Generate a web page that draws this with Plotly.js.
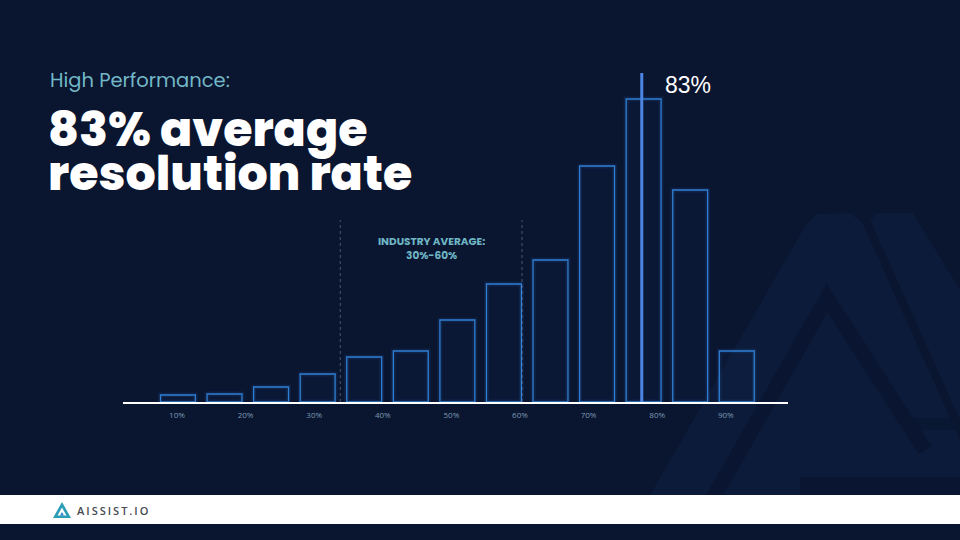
<!DOCTYPE html>
<html>
<head>
<meta charset="utf-8">
<script src="https://cdn.plot.ly/plotly-3.0.1.min.js"></script>
<style>
  html, body { margin: 0; padding: 0; background: #0a1530; }
  #chart { width: 960px; height: 540px; }
</style>
</head>
<body>
<div id="chart"></div>
<script>
// ---- Data ----
const bins = [1, 2, 3, 4, 5, 6, 7, 8, 9, 10, 11, 12, 13];
const shares = [0.7, 0.8, 1.5, 2.8, 4.5, 5.1, 8.2, 11.8, 14.2, 23.6, 30.3, 21.2, 5.1];
const tickValues = [10, 20, 30, 40, 50, 60, 70, 80, 90];
const tickLabels = ['10%', '20%', '30%', '40%', '50%', '60%', '70%', '80%', '90%'];
const averageBin = 10.96;          // position of the 83% marker on the bin axis
const averageLabel = '83%';
const industryBounds = [33.8, 60.3]; // dotted guide positions on the percent axis
const industryText = 'INDUSTRY AVERAGE:<br>30%-60%';

// ---- helpers for page-pixel -> paper ----
const W = 960, H = 540;
const PX = x => x / W;
const PY = y => 1 - y / H;
const path = pts => pts.map((p, i) => (i ? 'L ' : 'M ') + PX(p[0]) + ' ' + PY(p[1])).join(' ') + ' Z';
const openPath = pts => pts.map((p, i) => (i ? 'L ' : 'M ') + PX(p[0]) + ' ' + PY(p[1])).join(' ');

const barColor = '#2f7fd4';
const bg = '#0a1530';
const lightFill = 'rgba(30,62,115,0.14)';

const traces = [
  { // glow
    type: 'bar', x: bins, y: shares, xaxis: 'x', yaxis: 'y',
    marker: { color: 'rgba(0,0,0,0)', line: { color: 'rgba(47,127,212,0.12)', width: 5 } },
    hoverinfo: 'skip'
  },
  {
    type: 'bar', x: bins, y: shares, xaxis: 'x', yaxis: 'y',
    marker: { color: 'rgba(30,60,110,0.08)', line: { color: barColor, width: 1.3 } },
    hoverinfo: 'skip'
  },
  { // industry-average dotted guides
    type: 'scatter', mode: 'lines', xaxis: 'x2', yaxis: 'y',
    x: [industryBounds[0], industryBounds[0], null, industryBounds[1], industryBounds[1]],
    y: [0, 18.2, null, 0, 18.2],
    line: { color: 'rgba(140,150,175,0.5)', width: 1, dash: 'dot' },
    hoverinfo: 'skip'
  },
  { // 83% marker line
    type: 'scatter', mode: 'lines', xaxis: 'x', yaxis: 'y',
    x: [averageBin, averageBin], y: [0, 32.9],
    line: { color: '#4d86e2', width: 3 },
    hoverinfo: 'skip'
  }
];

const shapes = [
  // faint background logo
  { type: 'path', xref: 'paper', yref: 'paper', layer: 'below',
    path: path([[650, 495], [805, 226], [816, 214], [850, 213], [862, 222], [985, 495]]),
    fillcolor: lightFill, line: { width: 0 } },
  { type: 'path', xref: 'paper', yref: 'paper', layer: 'below',
    path: path([[870, 220], [878, 213], [913, 213], [960, 290], [960, 420]]),
    fillcolor: lightFill, line: { width: 0 } },
  { type: 'path', xref: 'paper', yref: 'paper', layer: 'below',
    path: openPath([[712, 500], [827, 298], [925, 450]]),
    line: { color: 'rgba(10,21,48,0.8)', width: 15 } },
  { type: 'path', xref: 'paper', yref: 'paper', layer: 'below',
    path: path([[800, 477], [985, 477], [985, 495], [800, 495]]),
    fillcolor: 'rgba(10,21,48,0.8)', line: { width: 0 } },
  { type: 'path', xref: 'paper', yref: 'paper', layer: 'below',
    path: path([[900, 418], [960, 418], [960, 430], [908, 430]]),
    fillcolor: 'rgba(10,21,48,0.6)', line: { width: 0 } },
  // footer band
  { type: 'rect', xref: 'paper', yref: 'paper', layer: 'above',
    x0: 0, x1: 1, y0: PY(524), y1: PY(495),
    fillcolor: '#ffffff', line: { width: 0 } },
  // logo icon
  { type: 'path', xref: 'paper', yref: 'paper', layer: 'above',
    path: path([[53, 518], [62, 502], [71, 518]]),
    fillcolor: '#2b9db5', line: { width: 0 } },
  { type: 'path', xref: 'paper', yref: 'paper', layer: 'above',
    path: path([[57.5, 515.5], [62, 507.5], [66.5, 515.5]]),
    fillcolor: '#ffffff', line: { width: 0 } },
  { type: 'path', xref: 'paper', yref: 'paper', layer: 'above',
    path: path([[60, 515.5], [62, 512], [64, 515.5]]),
    fillcolor: '#2c7fc4', line: { width: 0 } }
];

const titleFont = 'Poppins, Inter, "Open Sans", sans-serif';
const annotations = [
  { xref: 'paper', yref: 'paper', x: PX(48), y: PY(80), xanchor: 'left', yanchor: 'middle',
    text: 'High Performance:', showarrow: false,
    font: { family: titleFont, size: 19.5, color: '#72b8c6', weight: 400 } },
  { xref: 'paper', yref: 'paper', x: PX(46), y: PY(129), xanchor: 'left', yanchor: 'middle',
    text: '83% average', showarrow: false,
    font: { family: titleFont, size: 47.5, color: '#ffffff', weight: 800 } },
  { xref: 'paper', yref: 'paper', x: PX(46), y: PY(173), xanchor: 'left', yanchor: 'middle',
    text: 'resolution rate', showarrow: false,
    font: { family: titleFont, size: 47.5, color: '#ffffff', weight: 800 } },
  { xref: 'paper', yref: 'paper', x: PX(688), y: PY(85), xanchor: 'center', yanchor: 'middle',
    text: averageLabel, showarrow: false,
    font: { family: '"Liberation Sans", Arial, sans-serif', size: 23, color: '#ffffff' } },
  { xref: 'paper', yref: 'paper', x: PX(431), y: PY(248), xanchor: 'center', yanchor: 'middle',
    text: industryText, showarrow: false,
    font: { family: titleFont, size: 10.5, color: '#6fb6c5', weight: 700 } },
  { xref: 'paper', yref: 'paper', x: PX(75), y: PY(510), xanchor: 'left', yanchor: 'middle',
    text: '<span style="letter-spacing:2px">AISSIST.IO</span>', showarrow: false,
    font: { family: '"Open Sans", sans-serif', size: 11, color: '#454a52', weight: 600 } }
];

const layout = {
  width: W, height: H,
  margin: { l: 0, r: 0, t: 0, b: 0 },
  paper_bgcolor: bg,
  plot_bgcolor: 'rgba(0,0,0,0)',
  showlegend: false,
  barmode: 'overlay',
  bargap: 0.25,
  xaxis: {
    domain: [PX(123), PX(788)], range: [-0.18, 14.1],
    showline: true, linecolor: '#ffffff', linewidth: 1.5,
    showgrid: false, zeroline: false, showticklabels: false, ticks: '', fixedrange: true
  },
  xaxis2: {
    overlaying: 'x', anchor: 'y', side: 'bottom', range: [2.13, 99.07],
    tickvals: tickValues, ticktext: tickLabels, ticks: '', ticklabelstandoff: 7,
    showgrid: false, zeroline: false, showline: false,
    tickfont: { family: '"Open Sans", sans-serif', size: 8, color: '#7b9ab3' }
  },
  yaxis: {
    domain: [PY(402), PY(72)], range: [0, 33],
    visible: false, showgrid: false, zeroline: false
  },
  shapes: shapes,
  annotations: annotations
};

Plotly.newPlot('chart', traces, layout, { displayModeBar: false, staticPlot: true });
</script>
</body>
</html>
